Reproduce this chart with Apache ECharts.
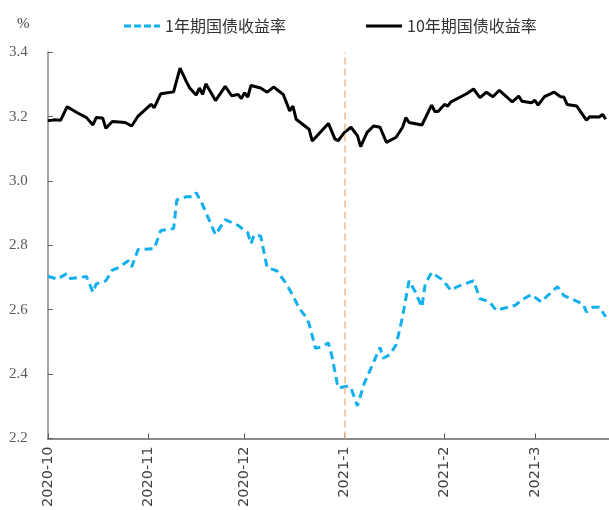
<!DOCTYPE html>
<html>
<head>
<meta charset="utf-8">
<script src="https://cdn.jsdelivr.net/npm/echarts@6/dist/echarts.min.js"></script>
<style>html,body{margin:0;padding:0;background:#fff}#c{width:609px;height:510px}</style>
</head>
<body>
<div id="c"></div>
<script>
// ---- data ----
var axisStart = '2020-10-01';
var axisEnd = '2021-03-24';
var monthTickLabels = ['2020-10', '2020-11', '2020-12', '2021-1', '2021-2', '2021-3'];
var yTicks = [2.2, 2.4, 2.6, 2.8, 3.0, 3.2, 3.4];
var markDate = '2021-01-01';

var name10y = '10年期国债收益率';
var dates10y = ['2020-10-01','2020-10-03','2020-10-05','2020-10-07','2020-10-10','2020-10-13','2020-10-15','2020-10-16','2020-10-18','2020-10-19','2020-10-21','2020-10-25','2020-10-27','2020-10-29','2020-11-02','2020-11-03','2020-11-05','2020-11-09','2020-11-11','2020-11-13','2020-11-14','2020-11-16','2020-11-17','2020-11-18','2020-11-19','2020-11-22','2020-11-25','2020-11-27','2020-11-29','2020-11-30','2020-12-01','2020-12-02','2020-12-03','2020-12-06','2020-12-08','2020-12-10','2020-12-13','2020-12-15','2020-12-16','2020-12-17','2020-12-21','2020-12-22','2020-12-24','2020-12-27','2020-12-29','2020-12-30','2021-01-01','2021-01-03','2021-01-05','2021-01-06','2021-01-08','2021-01-10','2021-01-12','2021-01-14','2021-01-17','2021-01-19','2021-01-20','2021-01-21','2021-01-25','2021-01-28','2021-01-29','2021-01-30','2021-02-01','2021-02-02','2021-02-03','2021-02-08','2021-02-10','2021-02-12','2021-02-14','2021-02-16','2021-02-18','2021-02-22','2021-02-24','2021-02-25','2021-02-28','2021-03-01','2021-03-02','2021-03-04','2021-03-07','2021-03-09','2021-03-10','2021-03-11','2021-03-14','2021-03-17','2021-03-18','2021-03-21','2021-03-22','2021-03-23'];
var yield10y = [3.187,3.190,3.189,3.231,3.213,3.197,3.174,3.197,3.196,3.164,3.185,3.182,3.171,3.202,3.238,3.228,3.271,3.277,3.351,3.308,3.289,3.267,3.289,3.269,3.302,3.250,3.294,3.265,3.269,3.256,3.274,3.261,3.297,3.289,3.276,3.292,3.269,3.218,3.233,3.192,3.161,3.124,3.146,3.179,3.131,3.125,3.151,3.167,3.141,3.107,3.151,3.171,3.167,3.120,3.136,3.167,3.197,3.182,3.174,3.236,3.216,3.216,3.238,3.233,3.246,3.272,3.286,3.259,3.276,3.262,3.282,3.246,3.264,3.248,3.243,3.251,3.236,3.262,3.276,3.262,3.261,3.238,3.233,3.189,3.200,3.199,3.207,3.192];

var name1y = '1年期国债收益率';
var dates1y = ['2020-10-01','2020-10-04','2020-10-07','2020-10-08','2020-10-13','2020-10-15','2020-10-16','2020-10-19','2020-10-21','2020-10-23','2020-10-26','2020-10-27','2020-10-29','2020-11-03','2020-11-05','2020-11-09','2020-11-10','2020-11-13','2020-11-15','2020-11-16','2020-11-18','2020-11-22','2020-11-25','2020-11-29','2020-12-02','2020-12-03','2020-12-04','2020-12-06','2020-12-08','2020-12-11','2020-12-14','2020-12-16','2020-12-18','2020-12-20','2020-12-21','2020-12-23','2020-12-25','2020-12-27','2020-12-28','2020-12-30','2021-01-02','2021-01-03','2021-01-05','2021-01-07','2021-01-09','2021-01-12','2021-01-13','2021-01-15','2021-01-17','2021-01-19','2021-01-21','2021-01-23','2021-01-25','2021-01-26','2021-01-28','2021-01-31','2021-02-01','2021-02-03','2021-02-05','2021-02-10','2021-02-12','2021-02-15','2021-02-17','2021-02-20','2021-02-23','2021-02-25','2021-02-28','2021-03-03','2021-03-05','2021-03-08','2021-03-10','2021-03-13','2021-03-16','2021-03-17','2021-03-19','2021-03-21','2021-03-23'];
var yield1y = [2.704,2.695,2.713,2.697,2.703,2.654,2.680,2.690,2.723,2.731,2.752,2.733,2.787,2.790,2.846,2.852,2.941,2.951,2.951,2.964,2.926,2.833,2.880,2.862,2.839,2.805,2.833,2.829,2.731,2.721,2.680,2.644,2.603,2.578,2.557,2.480,2.485,2.497,2.460,2.357,2.362,2.357,2.301,2.368,2.414,2.483,2.449,2.460,2.491,2.578,2.690,2.654,2.608,2.680,2.716,2.695,2.685,2.660,2.672,2.690,2.634,2.624,2.598,2.606,2.614,2.631,2.647,2.624,2.644,2.672,2.644,2.631,2.617,2.593,2.608,2.608,2.578];

// ---- build calendar-day category axis ----
function fmt(d){var m=d.getUTCMonth()+1, day=d.getUTCDate();return d.getUTCFullYear()+'-'+(m<10?'0':'')+m+'-'+(day<10?'0':'')+day;}
var categories = [];
(function(){var d=new Date(axisStart+'T00:00:00Z'), e=new Date(axisEnd+'T00:00:00Z');while(d<=e){categories.push(fmt(d));d=new Date(d.getTime()+86400000);}})();
function pairs(dates, vals){return dates.map(function(dt,i){return [categories.indexOf(dt), vals[i]];});}
function isMonthStart(idx){return categories[idx] && categories[idx].slice(8)==='01';}
var monthStarts = categories.filter(function(c){return c.slice(8)==='01';});
function monthLabel(val){var k=monthStarts.indexOf(val);return k>=0?monthTickLabels[k]:'';}

var chart = echarts.init(document.getElementById('c'), null, {renderer:'canvas'});
var cjk = '"Noto Sans CJK SC", "Noto Sans", sans-serif';
var dashIcon = 'path://M0,0h7v3h-7zM10,0h7v3h-7zM20,0h7v3h-7zM30,0h6v3h-6z';
var solidIcon = 'path://M0,0h36v3h-36z';
chart.setOption({
  animation:false,
  backgroundColor:'#ffffff',
  title:{text:'%', left:12, top:12, textStyle:{fontSize:15, fontWeight:'normal', color:'#404040', fontFamily:'"Liberation Serif", serif'}},
  legend:[
    {data:[{name:name1y, icon:dashIcon}], left:119, top:13, itemWidth:36, itemHeight:3, textStyle:{fontSize:16, color:'#333333', fontFamily:cjk}},
    {data:[{name:name10y, icon:solidIcon}], left:361, top:13, itemWidth:36, itemHeight:3, textStyle:{fontSize:16, color:'#333333', fontFamily:cjk}}
  ],
  grid:{left:47.8, top:52.3, bottom:68, right:-2, containLabel:false},
  xAxis:{
    type:'category', data:categories, boundaryGap:false,
    axisLine:{lineStyle:{color:'#8c8c8c', width:2}},
    axisTick:{show:true, inside:true, length:5, interval:function(i){return isMonthStart(i);}, lineStyle:{color:'#595959', width:1}},
    axisLabel:{interval:function(i){return isMonthStart(i);}, rotate:90, margin:8, fontSize:14.5, color:'#404040', fontFamily:'"DejaVu Sans", sans-serif', formatter:monthLabel},
    splitLine:{show:false}
  },
  yAxis:{
    type:'value', min:yTicks[0], max:yTicks[yTicks.length-1], interval:0.2,
    axisLine:{show:true, lineStyle:{color:'#a6a6a6', width:2}},
    axisTick:{show:true, inside:true, length:5, lineStyle:{color:'#595959', width:1}},
    axisLabel:{margin:20, fontSize:15, color:'#595959', fontFamily:'"Liberation Serif", serif', formatter:function(v){return v.toFixed(1);}},
    splitLine:{show:false}
  },
  series:[
    {name:name1y, type:'line', symbol:'none', data:pairs(dates1y, yield1y),
     lineStyle:{color:'#12B0EE', width:3, type:[8,5]}, itemStyle:{color:'#12B0EE'}, z:3},
    {name:name10y, type:'line', symbol:'none', data:pairs(dates10y, yield10y),
     lineStyle:{color:'#000000', width:3}, itemStyle:{color:'#000000'}, z:4,
     markLine:{silent:true, symbol:['none','none'], label:{show:false}, animation:false,
       lineStyle:{color:'#F5B98A', width:1.5, type:[7,4]},
       data:[{xAxis:categories.indexOf(markDate)}]}}
  ]
});
</script>
</body>
</html>
